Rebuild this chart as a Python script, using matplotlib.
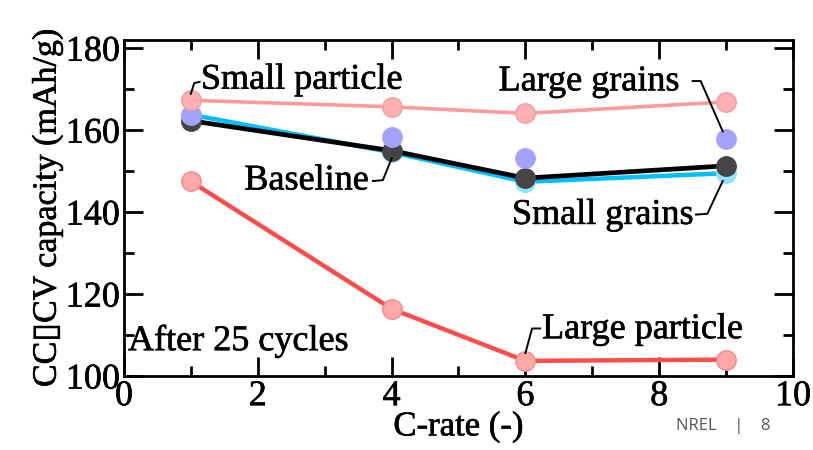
import matplotlib
matplotlib.use("Agg")
import matplotlib.pyplot as plt
import matplotlib.patheffects as pe
from matplotlib.ticker import MultipleLocator

plt.rcParams['font.family'] = ['Liberation Serif', 'DejaVu Sans']

c_rate = [1, 4, 6, 9]
small_particle = [167.3, 165.7, 164.1, 166.9]
large_particle = [147.5, 116.4, 103.7, 104.0]
baseline = [162.3, 155.0, 148.3, 151.3]
small_grains = [163.8, 154.6, 147.4, 149.5]
large_grains = [163.6, 158.4, 153.2, 157.8]

# slightly heavier strokes, like the reference glyphs
thick = [pe.withStroke(linewidth=0.45, foreground='black')]

fig = plt.figure(figsize=(8.13, 4.5), dpi=100)
ax = fig.add_axes([0.1525, 0.1644, 0.8229, 0.7466])

# lines with dots
ax.plot(c_rate, small_grains, '-', color='#00BFFF', lw=3.2, marker='o', ms=14,
        mfc='#8FE3FF', mec='#8FE3FF', zorder=2)
ax.plot(c_rate, baseline, '-', color='black', lw=3.4, marker='o', ms=14,
        mfc='#454545', mec='#454545', zorder=3)
ax.plot(c_rate, large_grains, 'o', ms=14, mfc='#A3A3FF', mec='#A3A3FF', zorder=4)
ax.plot(c_rate, small_particle, '-', color='#FF9A9A', lw=2.6, marker='o', ms=14,
        mfc='#FFB0B0', mec='#F59A9A', zorder=5)
ax.plot(c_rate, large_particle, '-', color='#FF4C4C', lw=3.2, marker='o', ms=14,
        mfc='#FFA8A8', mec='#F08A8A', zorder=5)

ax.set_xlim(0, 10)
ax.set_ylim(100, 182)
ax.xaxis.set_major_locator(MultipleLocator(2))
ax.xaxis.set_minor_locator(MultipleLocator(1))
ax.yaxis.set_major_locator(MultipleLocator(20))
ax.yaxis.set_minor_locator(MultipleLocator(10))
ax.tick_params(which='both', direction='in', top=True, right=True,
               width=2, labelsize=26, pad=3)
ax.tick_params(which='major', length=14)
ax.tick_params(which='minor', length=7.5)
for lab in ax.get_xticklabels() + ax.get_yticklabels():
    lab.set_family(['Liberation Serif'])
    lab.set_path_effects(thick)
for sp in ax.spines.values():
    sp.set_linewidth(2)

ax.set_xlabel('C-rate (-)', fontsize=25, labelpad=-2, path_effects=thick)
ax.set_ylabel('CC\u25afCV capacity (mAh/g)', fontsize=24.5, labelpad=2,
              path_effects=thick)

fs = 26
ax.text(1.15, 172.2, 'Small particle', fontsize=fs, va='center', ha='left',
        path_effects=thick)
ax.text(5.6, 171.8, 'Large grains', fontsize=fs, va='center', ha='left',
        path_effects=thick)
ax.text(1.8, 147.6, 'Baseline', fontsize=fs, va='center', ha='left',
        path_effects=thick)
ax.text(5.8, 139.2, 'Small grains', fontsize=fs, va='center', ha='left',
        path_effects=thick)
ax.text(6.25, 111.3, 'Large particle', fontsize=fs, va='center', ha='left',
        path_effects=thick)
ax.text(0.06, 108.4, 'After 25 cycles', fontsize=fs, va='center', ha='left',
        path_effects=thick)

# leader lines
lk = dict(color='black', lw=1.4, zorder=6)
ax.plot([c_rate[0], 1.05, 1.13], [small_particle[0] + 1.6, 171.5, 171.8], **lk)
ax.plot([8.5, 8.62, c_rate[3] - 0.05], [172.0, 172.0, large_grains[3] + 1.9], **lk)
ax.plot([3.72, 3.87, c_rate[1]], [147.6, 147.8, baseline[1] - 1.9], **lk)
ax.plot([8.55, 8.72, c_rate[3] - 0.05], [139.4, 139.6, small_grains[3] - 1.9], **lk)
ax.plot([6.22, 6.1, c_rate[2]], [111.6, 111.6, large_particle[2] + 1.9], **lk)

fig.text(0.831, 0.053, 'NREL    |    8', fontsize=12, color='#555555',
         family='Open Sans', ha='left', va='center')

fig.savefig('out.png', dpi=100)
